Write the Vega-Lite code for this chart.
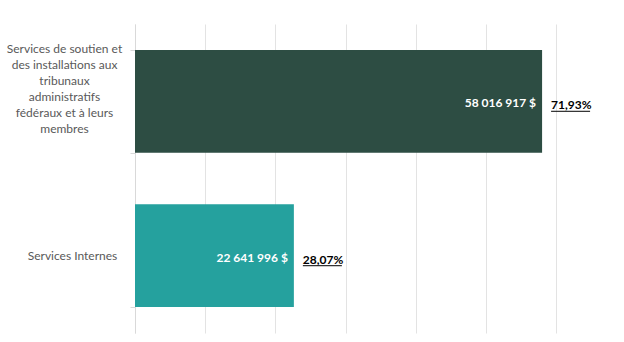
{
  "$schema": "https://vega.github.io/schema/vega-lite/v6.json",
  "autosize": "none",
  "padding": {"left": 135, "top": 24, "right": 68, "bottom": 9},
  "width": 421,
  "height": 309,
  "background": "white",
  "config": {"view": {"stroke": null}, "font": "Lato"},
  "data": {
    "values": [
      {"categorie": "Services de soutien et|des installations aux|tribunaux|administratifs|fédéraux et à leurs|membres", "montant": 58016917, "montant_txt": "58 016 917 $", "pct_txt": "71,93%", "couleur": "soutien"},
      {"categorie": "Services Internes", "montant": 22641996, "montant_txt": "22 641 996 $", "pct_txt": "28,07%", "couleur": "internes"}
    ]
  },
  "encoding": {
    "y": {
      "field": "categorie",
      "type": "nominal",
      "sort": null,
      "scale": {"paddingInner": 0.335, "paddingOuter": 0.168},
      "axis": {
        "title": null,
        "labelExpr": "split(datum.label, '|')",
        "labelAlign": "center",
        "labelBaseline": "middle",
        "labelLineHeight": 16,
        "labelFontSize": 12,
        "labelColor": "#595959",
        "labelFont": "Lato",
        "labelPadding": {"condition": {"test": "datum.value == 'Services Internes'", "value": 58}, "value": 66},
        "labelOffset": {"condition": {"test": "datum.value == 'Services Internes'", "value": 0}, "value": -53},
        "labelLimit": 200,
        "tickBand": "extent",
        "tickSize": 5,
        "tickColor": "#d9d9d9",
        "domainColor": "#d9d9d9",
        "grid": false
      }
    },
    "x": {
      "field": "montant",
      "type": "quantitative",
      "scale": {"domain": [0, 60000000], "nice": false},
      "axis": {"title": null, "labels": false, "ticks": false, "domain": false, "grid": true, "gridColor": "#e3e3e3", "values": [0, 10000000, 20000000, 30000000, 40000000, 50000000, 60000000]}
    }
  },
  "layer": [
    {
      "mark": {"type": "bar", "stroke": null},
      "encoding": {
        "color": {
          "field": "couleur",
          "type": "nominal",
          "scale": {"domain": ["soutien", "internes"], "range": ["#2D4D43", "#25A19E"]},
          "legend": null
        }
      }
    },
    {
      "mark": {"type": "text", "align": "right", "baseline": "middle", "dx": -6, "dy": 2, "fontSize": 12, "fontWeight": "bold", "color": "white", "font": "Lato"},
      "encoding": {
        "text": {"field": "montant_txt"}
      }
    },
    {
      "mark": {"type": "text", "align": "left", "baseline": "middle", "dx": 9, "dy": 4, "fontSize": 12, "fontWeight": "bold", "color": "black", "font": "Lato"},
      "encoding": {
        "text": {"field": "pct_txt"}
      }
    },
    {
      "mark": {"type": "rule", "color": "black", "strokeWidth": 1, "xOffset": 9, "x2Offset": 48, "yOffset": 10},
      "encoding": {
        "x2": {"field": "montant"}
      }
    }
  ]
}
